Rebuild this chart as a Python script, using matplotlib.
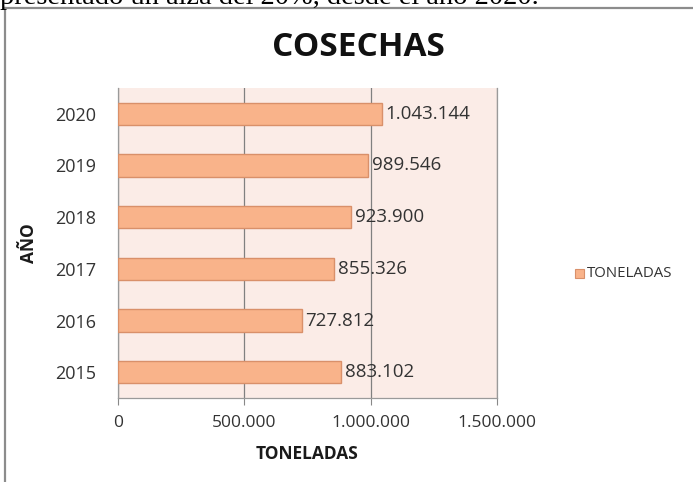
import matplotlib
matplotlib.use("Agg")
import matplotlib.pyplot as plt
from matplotlib.patches import Rectangle
from matplotlib.lines import Line2D
from matplotlib.ticker import FixedLocator

years = ["2015", "2016", "2017", "2018", "2019", "2020"]
toneladas = [883102, 727812, 855326, 923900, 989546, 1043144]
x_ticks = [0, 500000, 1000000, 1500000]
x_tick_labels = ["0", "500.000", "1.000.000", "1.500.000"]

W, H = 693, 482
fig = plt.figure(figsize=(W / 100, H / 100), dpi=100)
fig.patch.set_facecolor("white")

FONT = ["Open Sans", "DejaVu Sans"]

def fx(px):
    return px / W

def fy(py):
    return 1 - py / H

# running text of the page, cut at the top edge
fig.text(fx(0), fy(4), "presentado un alza del 20%, desde el año 2020.",
         family=["Liberation Serif", "DejaVu Serif"], fontsize=20.5,
         va="baseline", ha="left", color="black")

# chart frame
fig.add_artist(Line2D([fx(5), fx(5)], [fy(8), fy(482)], color="#8c8c8c", lw=1.6,
                      transform=fig.transFigure))
fig.add_artist(Line2D([fx(5), fx(693)], [fy(7.5), fy(7.5)], color="#8c8c8c", lw=1.6,
                      transform=fig.transFigure))

ax = fig.add_axes([fx(118), fy(398), fx(497) - fx(118), (398 - 88) / H])
ax.set_facecolor("#fbece7")

ypos = list(range(len(years)))
bars = ax.barh(ypos, toneladas, height=0.43, color="#f9b38a",
               edgecolor="#d9906a", linewidth=1.0, zorder=3)

def fmt(v):
    return f"{v:,}".replace(",", ".")

for y, v in zip(ypos, toneladas):
    ax.text(v + 14000, y, fmt(v), va="center", ha="left", fontsize=13.5,
            family=FONT, color="#333333", zorder=4)

ax.set_xlim(0, 1500000)
ax.set_ylim(-0.5, len(years) - 0.5)
ax.xaxis.set_major_locator(FixedLocator(x_ticks))
ax.set_xticklabels(x_tick_labels, family=FONT, fontsize=12.5, color="#333333")
ax.set_yticks(ypos)
ax.set_yticklabels(years, family=FONT, fontsize=13, color="#333333")
ax.tick_params(axis="y", length=0, pad=16)
ax.tick_params(axis="x", length=5, color="#888888", pad=7, direction="out")
ax.grid(axis="x", color="#808080", lw=0.9, zorder=1)

for s in ["left", "bottom", "right"]:
    ax.spines[s].set_color("#9a9a9a")
    ax.spines[s].set_linewidth(0.9)
ax.spines["top"].set_visible(False)

ax.set_xlabel("TONELADAS", family=FONT, fontsize=12.5, fontweight="bold",
              color="#1a1a1a", labelpad=10)
ax.set_ylabel("AÑO", family=FONT, fontsize=12.5, fontweight="bold",
              color="#1a1a1a", labelpad=12)

fig.text(fx(358), fy(47), "COSECHAS", family=FONT, fontsize=24,
         fontweight="bold", ha="center", va="center", color="#111111")

# legend
fig.add_artist(Rectangle((fx(575), fy(278)), fx(9), 9 / H, transform=fig.transFigure,
                         facecolor="#f9b38a", edgecolor="#d9906a", lw=0.8))
fig.text(fx(587), fy(273.5), "TONELADAS", family=FONT, fontsize=10.8,
         ha="left", va="center", color="#333333")

fig.savefig("out.png", dpi=100)
